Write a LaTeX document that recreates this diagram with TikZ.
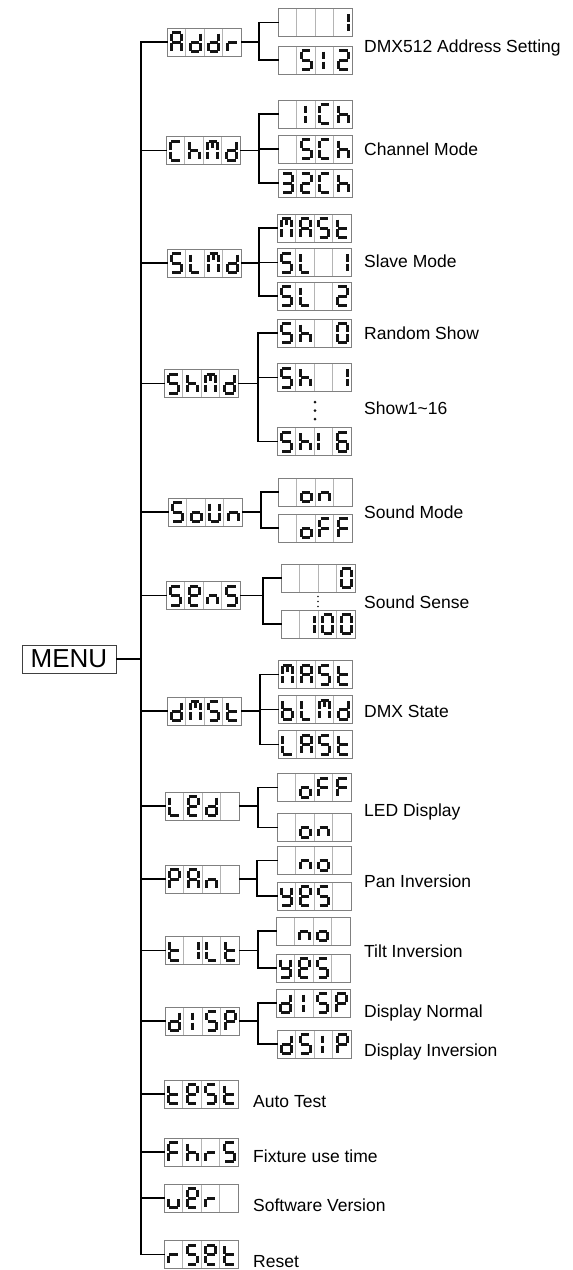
\documentclass[tikz,border=0pt]{standalone}
\usepackage{fontspec}
\setmainfont{Liberation Sans}
\usetikzlibrary{calc}
\definecolor{boxgray}{HTML}{808080}
\definecolor{divgray}{HTML}{B4B4B4}
\definecolor{segcol}{HTML}{141414}
\tikzset{
 dbox/.style={draw=boxgray, line width=0.9pt, minimum width=74.5pt, minimum height=28pt, inner sep=0pt, outer sep=0pt, fill=white},
 divline/.style={draw=divgray, line width=0.8pt},
 seg/.style={draw=segcol, line width=3pt, line cap=butt},
 conn/.style={draw=black, line width=1.1pt, line cap=rect},
 lbl/.style={anchor=base west, inner sep=0pt, font=\fontsize{17.5}{20}\selectfont},
 menubox/.style={draw=black!75, line width=1pt, minimum width=94pt, minimum height=28pt, inner sep=0pt, font=\fontsize{26}{30}\selectfont},
 sdot/.style={fill=segcol, draw=none}
}
% segments
\expandafter\def\csname sgd@a\endcsname{\draw[seg] (5.3,4.5)--(13.7,4.5);}
\expandafter\def\csname sgd@g\endcsname{\draw[seg] (5.3,14)--(13.7,14);}
\expandafter\def\csname sgd@d\endcsname{\draw[seg] (5.3,23.5)--(13.7,23.5);}
\expandafter\def\csname sgd@f\endcsname{\draw[seg] (4.5,5.5)--(4.5,13);}
\expandafter\def\csname sgd@e\endcsname{\draw[seg] (4.5,15)--(4.5,22.5);}
\expandafter\def\csname sgd@b\endcsname{\draw[seg] (14.5,5.5)--(14.5,13);}
\expandafter\def\csname sgd@c\endcsname{\draw[seg] (14.5,15)--(14.5,22.5);}
\expandafter\def\csname sgd@m\endcsname{\draw[seg] (9.5,5.5)--(9.5,11);}
\expandafter\def\csname sgd@k\endcsname{\draw[seg] (8.5,5.5)--(8.5,12.5);}
\expandafter\def\csname sgd@j\endcsname{\draw[seg] (8.5,15.5)--(8.5,22.5);}
\newcommand\defglyph[2]{\expandafter\def\csname gly@#1\endcsname{#2}}
\defglyph{A}{a,b,c,e,f,g}
\defglyph{d}{b,c,d,e,g}
\defglyph{r}{e,g}
\defglyph{C}{a,d,e,f}
\defglyph{h}{c,e,f,g}
\defglyph{M}{a,b,c,e,f,m}
\defglyph{1}{b,c}
\defglyph{I}{k,j}
\defglyph{l}{e,f}
\defglyph{5}{a,c,d,f,g}
\defglyph{S}{a,c,d,f,g}
\defglyph{3}{a,b,c,d,g}
\defglyph{2}{a,b,d,e,g}
\defglyph{L}{d,e,f}
\defglyph{t}{d,e,f,g}
\defglyph{0}{a,b,c,d,e,f}
\defglyph{6}{a,c,d,e,f,g}
\defglyph{o}{c,d,e,g}
\defglyph{U}{b,c,d,e,f}
\defglyph{n}{c,e,g}
\defglyph{e}{a,b,d,e,f,g}
\defglyph{F}{a,e,f,g}
\defglyph{b}{c,d,e,f,g}
\defglyph{P}{a,b,e,f,g}
\defglyph{y}{b,c,d,f,g}
\defglyph{u}{c,d,e}
\defglyph{-}{z}
\newcommand\oneglyph[3]{%
 \begin{scope}[shift={(#1.north west)},xshift={#2*18.625pt}]
 \expandafter\let\expandafter\glist\csname gly@#3\endcsname
 \foreach \s in \glist {\csname sgd@\s\endcsname}
 \end{scope}}
\newcommand\disp[6]{%
 \node[dbox] (#1) at (#2) {};
 \begin{scope}[shift={(#1.north west)}]
 \draw[divline] (18.625,0.5)--(18.625,27.5) (37.25,0.5)--(37.25,27.5) (55.875,0.5)--(55.875,27.5);
 \end{scope}
 \oneglyph{#1}{0}{#3}\oneglyph{#1}{1}{#4}\oneglyph{#1}{2}{#5}\oneglyph{#1}{3}{#6}}
\newcommand\fork[4]{% parent, branch x, first child, last child
 \coordinate (#1-b) at (#2,0);
 \draw[conn] (#1.east) -- (#1.east -| #1-b);
 \draw[conn] (#3.west) -| (#4.west -| #1-b) -- (#4.west);}
\newcommand\midchild[2]{\draw[conn] (#2.west) -- (#2.west -| #1-b);}
\begin{document}
\begin{tikzpicture}[x=1pt,y=-1pt]
\useasboundingbox (0,0) rectangle (573,1270);
% MENU
\node[menubox] (menu) at (69,659) {MENU};
% level 1
\disp{addr}{204.25,42}Addr
\disp{chmd}{203.25,150.5}ChMd
\disp{slmd}{204.25,263}SLMd
\disp{shmd}{201.25,383.5}ShMd
\disp{soun}{205.25,512}SoUn
\disp{sens}{203.25,595.5}SenS
\disp{dmst}{204.25,711}dMSt
\disp{led}{202.25,806}Led-
\disp{pan}{202.25,879}PAn-
\disp{tilt}{202.25,950.5}t1Lt
\disp{disp}{202.25,1021}dISP
\disp{test}{201.25,1094}teSt
\disp{fhrs}{201.25,1152}FhrS
\disp{ver}{201.25,1198}uer-
\disp{rset}{201.25,1254.5}rSet
% level 2
\disp{a1}{315.25,22.5}---1
\disp{a2}{315.25,60}-5I2
\disp{c1}{315.25,114}-ICh
\disp{c2}{315.25,149}-5Ch
\disp{c3}{315.25,183}32Ch
\disp{s1}{314.25,228}MASt
\disp{s2}{314.25,262.5}SL-1
\disp{s3}{314.25,296}SL-2
\disp{h1}{314.25,333}Sh-0
\disp{h2}{314.25,377.5}Sh-1
\disp{h3}{314.25,441.5}Shl6
\disp{o1}{315.25,492}-on-
\disp{o2}{315.25,528}-oFF
\disp{n1}{318.25,578}---0
\disp{n2}{318.25,624}-100
\disp{m1}{315.25,674.5}MASt
\disp{m2}{315.25,709.5}bLMd
\disp{m3}{315.25,744.5}LASt
\disp{l1}{314.25,787.5}-oFF
\disp{l2}{314.25,827.5}-on-
\disp{p1}{314.25,860.5}-no-
\disp{p2}{314.25,896}yeS-
\disp{t1}{313.25,931}-no-
\disp{t2}{313.25,968}yeS-
\disp{d1}{313.25,1003}dISP
\disp{d2}{314.25,1044}dSIP
% dots
\fill[sdot] (315,402) circle[radius=1.5pt] (315,410.5) circle[radius=1.5pt] (315,419) circle[radius=1.5pt];
\fill[sdot] (318,596.5) circle[radius=0.8pt] (318,601.5) circle[radius=0.8pt] (318,606.5) circle[radius=0.8pt];
% trunk
\coordinate (trunk) at (141,0);
\draw[conn] (addr.west -| trunk) -- (rset.west -| trunk);
\draw[conn] (menu.east) -- (menu.east -| trunk);
\foreach \n in {addr,chmd,slmd,shmd,soun,sens,dmst,led,pan,tilt,disp,test,fhrs,ver,rset}
 {\draw[conn] (\n.west) -- (\n.west -| trunk);}
% forks
\fork{addr}{259}{a1}{a2}
\fork{chmd}{259}{c1}{c3}\midchild{chmd}{c2}
\fork{slmd}{259}{s1}{s3}\midchild{slmd}{s2}
\fork{shmd}{258}{h1}{h3}\midchild{shmd}{h2}
\fork{soun}{261}{o1}{o2}
\fork{sens}{263}{n1}{n2}
\fork{dmst}{260}{m1}{m3}\midchild{dmst}{m2}
\fork{led}{258}{l1}{l2}
\fork{pan}{257}{p1}{p2}
\fork{tilt}{258}{t1}{t2}
\fork{disp}{258}{d1}{d2}
% labels
\node[lbl] (la) at (364,52) {DMX512 Address Setting};
\node[lbl] (lc) at (364,155.5) {Channel Mode};
\node[lbl] (ls) at (364,267) {Slave Mode};
\node[lbl] (lr) at (364,339) {Random Show};
\node[lbl] (lh) at (364,414) {Show1\textasciitilde16};
\node[lbl] (lo) at (364,518) {Sound Mode};
\node[lbl] (ln) at (364,608) {Sound Sense};
\node[lbl] (lm) at (364,717) {DMX State};
\node[lbl] (ll) at (364,816) {LED Display};
\node[lbl] (lp) at (364,887) {Pan Inversion};
\node[lbl] (lt) at (364,957) {Tilt Inversion};
\node[lbl] (ld1) at (364,1017) {Display Normal};
\node[lbl] (ld2) at (364,1056) {Display Inversion};
\node[lbl] (lte) at (253,1107) {Auto Test};
\node[lbl] (lfh) at (253,1162) {Fixture use time};
\node[lbl] (lve) at (253,1211) {Software Version};
\node[lbl] (lrs) at (253,1267) {Reset};
\end{tikzpicture}
\end{document}
